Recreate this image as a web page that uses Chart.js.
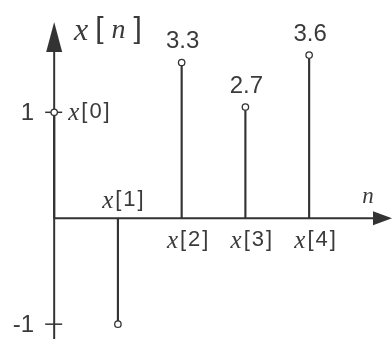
<!DOCTYPE html>
<html>
<head>
<meta charset="utf-8">
<script src="https://cdn.jsdelivr.net/npm/chart.js@4/dist/chart.umd.min.js"></script>
<style>
  html, body { margin: 0; padding: 0; background: #fff; }
  canvas { display: block; }
</style>
</head>
<body>
<canvas id="grafico" width="392" height="339"></canvas>
<script>
// muestras n y alturas de los tallos tal como se dibujan (la figura no está a escala)
const muestras = [0, 1, 2, 3, 4];
const alturas = [1, -1, 1.47, 1.05, 1.54];
// valores escritos sobre los tallos
const etiquetasValor = ['', '', '3.3', '2.7', '3.6'];
const ticksY = [1, -1];
const etiquetasTickY = ['1', '-1'];

const colorLinea = '#333';
const colorTexto = '#3a3a3a';
const xIt = 'italic 25px "Liberation Serif", serif';
const corchete = '22px "Liberation Sans", sans-serif';
const numero = '24px "Liberation Sans", "DejaVu Sans", sans-serif';

function textoMixto(ctx, partes, x, y, align) {
  let total = 0;
  partes.forEach(p => { ctx.font = p.font; total += ctx.measureText(p.text).width + (p.gap || 0); });
  let cx = align === 'left' ? x : x - total / 2;
  ctx.textAlign = 'left';
  ctx.textBaseline = 'middle';
  partes.forEach(p => {
    ctx.font = p.font;
    ctx.fillText(p.text, cx, y + (p.dy || 0));
    cx += ctx.measureText(p.text).width + (p.gap || 0);
  });
}

function etiquetaMuestra(i) {
  return [
    { text: 'x', font: xIt, gap: 2, dy: 1 },
    { text: '[', font: corchete, gap: 2 },
    { text: String(muestras[i]), font: corchete, gap: 2 },
    { text: ']', font: corchete }
  ];
}

const ejesPlugin = {
  id: 'ejesStem',
  beforeDatasetsDraw(chart) {
    const ctx = chart.ctx;
    const sx = chart.scales.x, sy = chart.scales.y;
    const x0 = sx.getPixelForValue(0);
    const y0 = sy.getPixelForValue(0);
    ctx.save();
    ctx.strokeStyle = colorLinea;
    ctx.fillStyle = colorLinea;
    ctx.lineWidth = 2;
    // eje vertical
    ctx.beginPath();
    ctx.moveTo(x0, chart.height);
    ctx.lineTo(x0, 40);
    ctx.stroke();
    ctx.beginPath();
    ctx.moveTo(x0, 22);
    ctx.lineTo(x0 - 8, 52);
    ctx.lineTo(x0 + 8, 52);
    ctx.closePath();
    ctx.fill();
    // eje horizontal
    ctx.beginPath();
    ctx.moveTo(x0, y0);
    ctx.lineTo(chart.width - 10, y0);
    ctx.stroke();
    ctx.beginPath();
    ctx.moveTo(chart.width, y0);
    ctx.lineTo(chart.width - 19, y0 - 7);
    ctx.lineTo(chart.width - 19, y0 + 7);
    ctx.closePath();
    ctx.fill();
    // ticks del eje y
    ctx.lineWidth = 1.5;
    ctx.fillStyle = colorTexto;
    ticksY.forEach((v, i) => {
      const py = sy.getPixelForValue(v);
      ctx.beginPath();
      ctx.moveTo(x0 - 9, py);
      ctx.lineTo(x0 + 8, py);
      ctx.stroke();
      ctx.font = numero;
      ctx.textAlign = 'right';
      ctx.textBaseline = 'middle';
      ctx.fillText(etiquetasTickY[i], x0 - 20, py + 1);
    });
    ctx.restore();
  },
  afterDatasetsDraw(chart) {
    const ctx = chart.ctx;
    const sx = chart.scales.x, sy = chart.scales.y;
    const y0 = sy.getPixelForValue(0);
    ctx.save();
    ctx.fillStyle = colorTexto;
    // titulo x[n]
    textoMixto(ctx, [
      { text: 'x', font: 'italic 32px "Liberation Serif", serif', gap: 7, dy: 2 },
      { text: '[', font: '30px "Liberation Sans", sans-serif', gap: 8 },
      { text: 'n', font: 'italic 28px "Liberation Serif", serif', gap: 8, dy: 1 },
      { text: ']', font: '30px "Liberation Sans", sans-serif' }
    ], 74, 30, 'left');
    // n del eje horizontal
    textoMixto(ctx, [{ text: 'n', font: 'italic 23px "Liberation Serif", serif' }], 368, 197, 'center');
    muestras.forEach((n, i) => {
      const px = sx.getPixelForValue(n);
      const py = sy.getPixelForValue(alturas[i]);
      if (n === 0) {
        textoMixto(ctx, etiquetaMuestra(i), px + 14, py, 'left');
      } else if (alturas[i] < 0) {
        textoMixto(ctx, etiquetaMuestra(i), px + 5, y0 - 18, 'center');
      } else {
        textoMixto(ctx, etiquetaMuestra(i), px + 6, y0 + 22, 'center');
      }
      if (etiquetasValor[i]) {
        ctx.font = numero;
        ctx.textAlign = 'center';
        ctx.textBaseline = 'middle';
        ctx.fillText(etiquetasValor[i], px + 1, py - 21);
      }
    });
    ctx.restore();
  }
};

const puntos = muestras.map((n, i) => ({ x: n, y: alturas[i] }));

new Chart(document.getElementById('grafico').getContext('2d'), {
  type: 'bar',
  data: {
    datasets: [
      {
        type: 'scatter',
        data: puntos,
        pointRadius: 3.2,
        pointBackgroundColor: '#fff',
        pointBorderColor: colorLinea,
        pointBorderWidth: 1.3,
        order: 0
      },
      {
        type: 'bar',
        data: puntos,
        backgroundColor: colorLinea,
        barThickness: 1.5,
        order: 1
      }
    ]
  },
  options: {
    responsive: false,
    animation: false,
    layout: { padding: 0, autoPadding: false },
    scales: {
      x: { type: 'linear', min: -0.85, max: 5.3, offset: false, display: false },
      y: { type: 'linear', min: -1.14, max: 2.06, display: false }
    },
    plugins: {
      legend: { display: false },
      tooltip: { enabled: false }
    }
  },
  plugins: [ejesPlugin]
});
</script>
</body>
</html>
